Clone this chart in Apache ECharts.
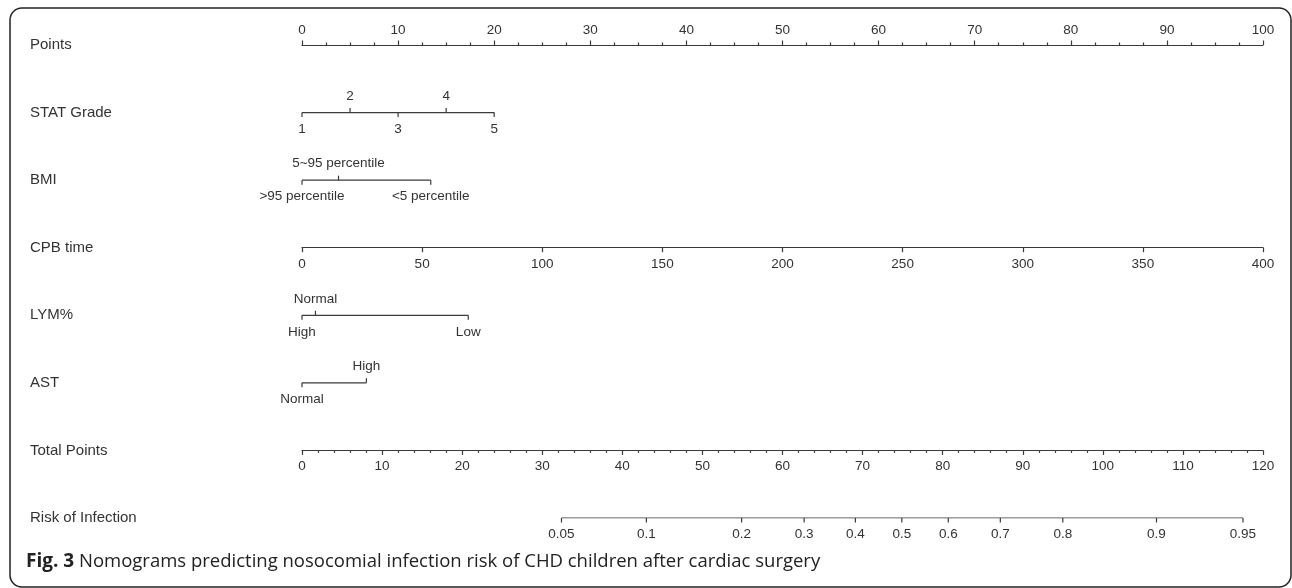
<!DOCTYPE html>
<html>
<head>
<meta charset="utf-8">
<title>Nomogram</title>
<script src="https://cdn.jsdelivr.net/npm/echarts@6/dist/echarts.min.js"></script>
<style>
  html, body { margin: 0; padding: 0; background: #fff; }
  #nomo { width: 1292px; height: 588px; }
</style>
</head>
<body>
<div id="nomo"></div>
<script>
// rows of the nomogram, top to bottom
const rowNames = ['Points', 'STAT Grade', 'BMI', 'CPB time', 'LYM%', 'AST', 'Total Points', 'Risk of Infection']

// categorical / ordinal predictors: label and the points it is worth
const statLabels = ['1', '2', '3', '4', '5']
const statPoints = [0, 5, 10, 15, 20]
const bmiLabels = ['>95 percentile', '5~95 percentile', '<5 percentile']
const bmiPoints = [0, 3.8, 13.4]
const lymLabels = ['High', 'Normal', 'Low']
const lymPoints = [0, 1.4, 17.3]
const astLabels = ['Normal', 'High']
const astPoints = [0, 6.7]

// continuous axes
const pointsRange = [0, 100]
const cpbRange = [0, 400]
const totalRange = [0, 120]

// risk of infection: probability labels and where they sit on the total points scale
const riskLabels = ['0.05', '0.1', '0.2', '0.3', '0.4', '0.5', '0.6', '0.7', '0.8', '0.9', '0.95']
const riskTotal = [32.4, 43.0, 54.9, 62.7, 69.1, 74.9, 80.7, 87.2, 95.0, 106.7, 117.5]

const ink = '#3a3a3a'
const txt = '#333'
const font = '"Liberation Sans", Arial, sans-serif'
const W = 1292
const H = 588
const gLeft = 302
const gRight = 29
const gTop = 45
const gBottom = 70
const rowStep = (H - gTop - gBottom) / (rowNames.length - 1)
const rowY = i => gTop + i * rowStep

const chart = echarts.init(document.getElementById('nomo'), null, { renderer: 'canvas' })

function rowSeries(name, labels, pts, xAxisIndex, alternate) {
  return [
    {
      type: 'line',
      xAxisIndex: xAxisIndex,
      yAxisIndex: 0,
      data: [[pts[0], name], [pts[pts.length - 1], name]],
      symbol: 'none',
      silent: true,
      lineStyle: { color: ink, width: 1.2 }
    },
    {
      type: 'custom',
      xAxisIndex: xAxisIndex,
      yAxisIndex: 0,
      silent: true,
      data: pts.map(p => [p, name]),
      renderItem: function(params, api) {
        const pt = api.coord([api.value(0), api.value(1)])
        // labels alternate below / above so they do not collide
        const d = alternate && params.dataIndex % 2 === 1 ? -1 : 1
        return {
          type: 'group',
          children: [
            {
              type: 'line',
              shape: { x1: pt[0], y1: pt[1], x2: pt[0], y2: pt[1] + d * 4.5 },
              style: { stroke: ink, lineWidth: 1.2 }
            },
            {
              type: 'text',
              x: pt[0],
              y: pt[1] + d * 16.5,
              style: {
                text: labels[params.dataIndex],
                fill: txt,
                fontSize: 13.5,
                fontFamily: font,
                align: 'center',
                verticalAlign: 'middle'
              }
            }
          ]
        }
      }
    }
  ]
}

const axisCommon = {
  type: 'value',
  splitLine: { show: false },
  axisLine: { show: true, lineStyle: { color: ink, width: 1.2 } },
  axisTick: { show: true, length: 4.5, lineStyle: { color: ink, width: 1.2 } },
  axisLabel: { color: txt, fontSize: 13.5, fontFamily: font, showMinLabel: true, showMaxLabel: true }
}

const option = {
  animation: false,
  backgroundColor: '#fff',
  title: {
    text: '{b|Fig. 3} Nomograms predicting nosocomial infection risk of CHD children after cardiac surgery',
    left: 26,
    top: 552,
    padding: 0,
    textStyle: {
      fontSize: 18.5,
      fontWeight: 'normal',
      fontFamily: '"Open Sans", sans-serif',
      color: '#222',
      rich: {
        b: { fontSize: 19, fontWeight: 'bold', fontFamily: '"Open Sans", sans-serif', color: '#222' }
      }
    }
  },
  graphic: [
    {
      type: 'rect',
      shape: { x: 10, y: 8, width: W - 11, height: H - 9, r: 12 },
      style: { fill: 'none', stroke: '#222', lineWidth: 1.5 },
      silent: true
    }
  ],
  grid: [
    { left: gLeft, right: gRight, top: gTop, bottom: gBottom, containLabel: false },
    { left: gLeft, right: gRight, top: 0, bottom: H - rowY(3), containLabel: false },
    { left: gLeft, right: gRight, top: 0, bottom: H - rowY(6), containLabel: false }
  ],
  xAxis: [
    Object.assign({}, axisCommon, {
      gridIndex: 0,
      position: 'top',
      min: pointsRange[0],
      max: pointsRange[1],
      interval: 10,
      minorTick: { show: true, splitNumber: 4, length: 2.5, lineStyle: { color: ink, width: 1.2 } },
      axisLabel: Object.assign({}, axisCommon.axisLabel, { margin: 8 })
    }),
    Object.assign({}, axisCommon, {
      gridIndex: 1,
      position: 'bottom',
      min: cpbRange[0],
      max: cpbRange[1],
      interval: 50,
      axisLabel: Object.assign({}, axisCommon.axisLabel, { margin: 10 })
    }),
    Object.assign({}, axisCommon, {
      gridIndex: 2,
      position: 'bottom',
      min: totalRange[0],
      max: totalRange[1],
      interval: 10,
      minorTick: { show: true, splitNumber: 5, length: 2.5, lineStyle: { color: ink, width: 1.2 } },
      axisLabel: Object.assign({}, axisCommon.axisLabel, { margin: 9 })
    }),
    // hidden total-points scale used to place the risk axis
    { type: 'value', gridIndex: 0, show: false, min: totalRange[0], max: totalRange[1] }
  ],
  yAxis: [
    {
      type: 'category',
      gridIndex: 0,
      data: rowNames,
      inverse: true,
      boundaryGap: false,
      axisLine: { show: false },
      axisTick: { show: false },
      splitLine: { show: false },
      axisLabel: { align: 'left', margin: gLeft - 30, color: txt, fontSize: 15, fontFamily: font }
    },
    { type: 'value', gridIndex: 1, show: false, min: 0, max: 1 },
    { type: 'value', gridIndex: 2, show: false, min: 0, max: 1 }
  ],
  series: [].concat(
    rowSeries('STAT Grade', statLabels, statPoints, 0, true),
    rowSeries('BMI', bmiLabels, bmiPoints, 0, true),
    rowSeries('LYM%', lymLabels, lymPoints, 0, true),
    rowSeries('AST', astLabels, astPoints, 0, true),
    rowSeries('Risk of Infection', riskLabels, riskTotal, 3, false)
  )
}

chart.setOption(option)
</script>
</body>
</html>
